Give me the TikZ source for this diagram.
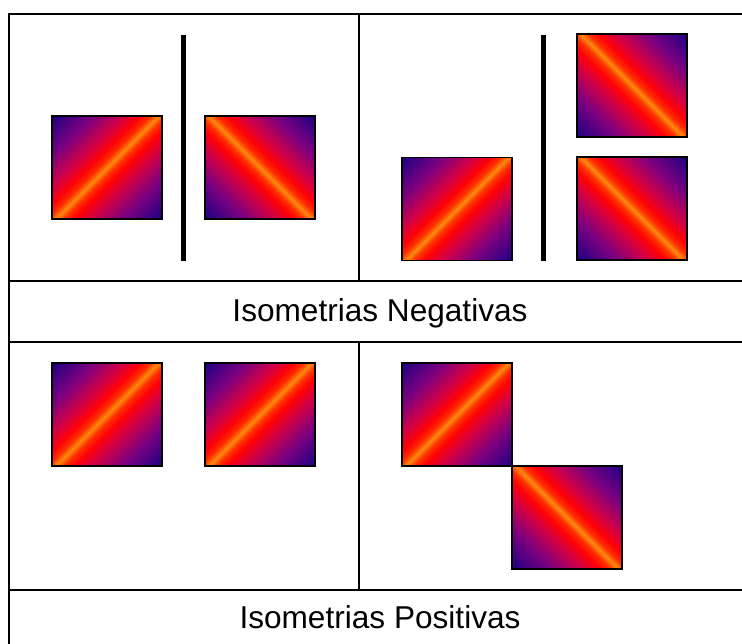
\documentclass[tikz,border=0pt]{standalone}
\usepackage{fontspec}
\setmainfont{Liberation Sans}
\usetikzlibrary{positioning}

\pgfdeclareverticalshading{faixa}{100bp}{%
  rgb(0bp)=(0.12,0,0.52);
  rgb(14.6bp)=(0.12,0,0.52);
  rgb(28bp)=(0.48,0,0.5);
  rgb(38bp)=(0.82,0,0.28);
  rgb(44bp)=(1,0,0.02);
  rgb(47.5bp)=(1,0.2,0);
  rgb(50bp)=(1,0.55,0.05);
  rgb(52.5bp)=(1,0.2,0);
  rgb(56bp)=(1,0,0.02);
  rgb(62bp)=(0.82,0,0.28);
  rgb(72bp)=(0.48,0,0.5);
  rgb(85.4bp)=(0.12,0,0.52);
  rgb(100bp)=(0.12,0,0.52)}

\tikzset{
  regra/.style={line width=2pt},
  barra/.style={line width=5pt},
  ladrilho/.style={draw, line width=1.2pt, inner sep=0pt, outer sep=0pt,
    minimum width=110pt, minimum height=103pt, shading=faixa},
  sobe/.style={ladrilho, shading angle=45},
  desce/.style={ladrilho, shading angle=-45},
  rotulo/.style={anchor=base, font=\fontsize{31.6}{38}\selectfont}
}

\begin{document}
\begin{tikzpicture}[x=1pt,y=-1pt]
        \useasboundingbox (0,0) rectangle (742,644);
        \clip (0,0) rectangle (742,644);
        \draw[regra] (760,14) -- (9,14) -- (9,660);
        \draw[regra] (9,281) -- (760,281);
        \draw[regra] (9,342) -- (760,342);
        \draw[regra] (9,590) -- (760,590);
        \draw[regra] (359,14) -- (359,281);
        \draw[regra] (359,342) -- (359,590);
        \node[sobe] (t1) at (107,167.5) {};
        \node[desce,right=43pt of t1] (t2) {};
        \draw[barra] (183,35) -- (183,261);
        \node[sobe] (t3) at (457,209) {};
        \node[desce] (t4) at (632,85.5) {};
        \node[desce,below=20pt of t4] (t5) {};
        \draw[barra] (543,35) -- (543,261);
        \node[rotulo] (neg) at (380,322) {Isometrias Negativas};
        \node[sobe] (t6) at (107,414.5) {};
        \node[sobe,right=43pt of t6] (t7) {};
        \node[sobe] (t8) at (457,414.5) {};
        \node[desce,below right=0pt of t8] (t9) {};
        \node[rotulo] (pos) at (380,628) {Isometrias Positivas};
\end{tikzpicture}
\end{document}
